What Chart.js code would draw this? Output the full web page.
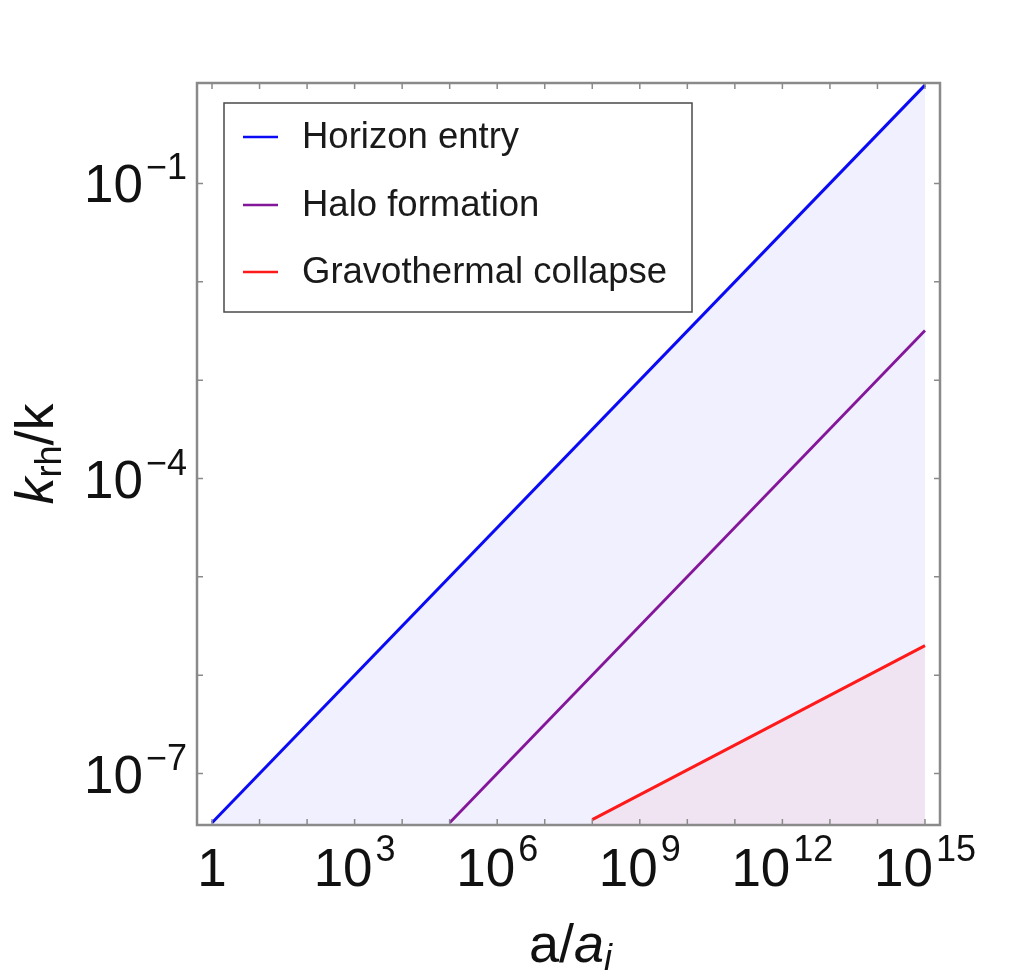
<!DOCTYPE html>
<html>
<head>
<meta charset="utf-8">
<script src="https://cdn.jsdelivr.net/npm/chart.js@4.4.0/dist/chart.umd.min.js"></script>
<style>
html,body{margin:0;padding:0;background:#fff;}
#wrap{width:1024px;height:978px;position:relative;}
</style>
</head>
<body>
<div id="wrap"><canvas id="c"></canvas></div>
<script>
// ---- data ----
const seriesLabels = ['Horizon entry', 'Halo formation', 'Gravothermal collapse'];
const seriesColors = ['#0a0af5', '#84169a', '#ff1a1a'];
const horizonX = [1, 1e15];
const horizonY = [3.16e-8, 1.0];
const haloX = [1e5, 1e15];
const haloY = [3.16e-8, 3.2e-3];
const gravoX = [1e8, 1e15];
const gravoY = [3.4e-8, 2.0e-6];
const xTickExps = [0,1,2,3,4,5,6,7,8,9,10,11,12,13,14,15];
const xLabelExps = [0,3,6,9,12,15];
const yTickExps = [-7,-6,-5,-4,-3,-2,-1];
const yLabelExps = [-7,-4,-1];
const xRange = [0.483, 2.07e15];
const yRange = [3.27e-8, 1.05];

const FONT = '"Liberation Sans", Arial, sans-serif';
const BASE = 53, SUP = 36;

function pts(xs, ys){ return xs.map((x,i)=>({x:x, y:ys[i]})); }

function powParts(e){
  if (e === 0) return {base:'1', sup:''};
  return {base:'10', sup:String(e).replace('-', '\u2212')};
}
function drawPow(ctx, e, px, py, mode){
  const p = powParts(e);
  ctx.font = BASE + 'px ' + FONT;
  const wb = ctx.measureText(p.base).width;
  ctx.font = SUP + 'px ' + FONT;
  const gap = p.sup ? 3 : 0;
  const ws = p.sup ? ctx.measureText(p.sup).width : 0;
  const total = wb + gap + ws;
  let left, bBase, bSup;
  if (mode === 'x'){ left = px - total/2; bBase = py + 61; bSup = py + 36; }
  else { left = px - total; bBase = py + 19; bSup = py - 4; }
  ctx.fillStyle = '#111';
  ctx.textAlign = 'left'; ctx.textBaseline = 'alphabetic';
  ctx.font = BASE + 'px ' + FONT;
  ctx.fillText(p.base, left, bBase);
  if (p.sup){
    ctx.font = SUP + 'px ' + FONT;
    ctx.fillText(p.sup, left + wb + gap, bSup);
  }
}
function drawRich(ctx, segs, cx, baseline){
  let total = 0;
  segs.forEach(s=>{ ctx.font = (s.it?'italic ':'') + s.size + 'px ' + FONT; s.w = ctx.measureText(s.t).width; total += s.w; });
  let x = cx - total/2;
  ctx.textAlign = 'left'; ctx.textBaseline = 'alphabetic'; ctx.fillStyle = '#111';
  segs.forEach(s=>{ ctx.font = (s.it?'italic ':'') + s.size + 'px ' + FONT; ctx.fillText(s.t, x, baseline + (s.dy||0)); x += s.w; });
}

const decor = {
  id: 'decor',
  afterDraw(chart){
    const ctx = chart.ctx, a = chart.chartArea, xs = chart.scales.x, ys = chart.scales.y;
    ctx.save();
    // tick marks, inward, on all four sides
    ctx.strokeStyle = '#8a8a8a'; ctx.lineWidth = 1.5;
    const tl = 6;
    ctx.beginPath();
    xTickExps.forEach(e=>{
      const px = xs.getPixelForValue(Math.pow(10,e));
      ctx.moveTo(px, a.bottom); ctx.lineTo(px, a.bottom - tl);
      ctx.moveTo(px, a.top); ctx.lineTo(px, a.top + tl);
    });
    yTickExps.forEach(e=>{
      const py = ys.getPixelForValue(Math.pow(10,e));
      ctx.moveTo(a.left, py); ctx.lineTo(a.left + tl, py);
      ctx.moveTo(a.right, py); ctx.lineTo(a.right - tl, py);
    });
    ctx.stroke();
    // frame
    ctx.lineWidth = 2.5; ctx.strokeStyle = '#8a8a8a';
    ctx.strokeRect(a.left, a.top, a.right - a.left, a.bottom - a.top);
    // tick labels
    xLabelExps.forEach(e=>{ drawPow(ctx, e, xs.getPixelForValue(Math.pow(10,e)), a.bottom, 'x'); });
    yLabelExps.forEach(e=>{ drawPow(ctx, e, a.left - 10, ys.getPixelForValue(Math.pow(10,e)), 'y'); });
    // axis titles
    const cx = (a.left + a.right)/2 + 2;
    drawRich(ctx, [
      {t:'a/', size:54}, {t:'a', size:54, it:true}, {t:'i', size:36, it:true, dy:8}
    ], cx, a.bottom + 137);
    ctx.save();
    ctx.translate(a.left - 144, (a.top + a.bottom)/2);
    ctx.rotate(-Math.PI/2);
    drawRich(ctx, [
      {t:'k', size:54, it:true}, {t:'rh', size:36, dy:8}, {t:'/k', size:54}
    ], 0, 0);
    ctx.restore();
    // legend
    const lx = a.left + 27, ly = a.top + 20, lw = 468, lh = 209;
    ctx.fillStyle = '#fff';
    ctx.fillRect(lx, ly, lw, lh);
    ctx.strokeStyle = '#4a4a4a'; ctx.lineWidth = 1.5;
    ctx.strokeRect(lx, ly, lw, lh);
    const rows = [ly + 34, ly + 102, ly + 169];
    chart.data.datasets.forEach((ds, i)=>{
      const ry = rows[i];
      ctx.strokeStyle = ds.borderColor; ctx.lineWidth = 2.5;
      ctx.beginPath(); ctx.moveTo(lx + 19, ry); ctx.lineTo(lx + 54, ry); ctx.stroke();
      ctx.fillStyle = '#1a1a1a';
      ctx.font = '36.5px ' + FONT; ctx.textAlign = 'left'; ctx.textBaseline = 'middle';
      ctx.fillText(ds.label, lx + 78, ry + 1);
    });
    ctx.restore();
  }
};

new Chart(document.getElementById('c'), {
  type: 'scatter',
  data: {
    datasets: [
      {label: seriesLabels[0], data: pts(horizonX, horizonY), showLine: true, borderColor: seriesColors[0], borderWidth: 3,
       fill: 'start', backgroundColor: 'rgba(0,0,255,0.06)', pointRadius: 0},
      {label: seriesLabels[1], data: pts(haloX, haloY), showLine: true, borderColor: seriesColors[1], borderWidth: 2.8,
       fill: false, pointRadius: 0},
      {label: seriesLabels[2], data: pts(gravoX, gravoY), showLine: true, borderColor: seriesColors[2], borderWidth: 3,
       fill: 'start', backgroundColor: 'rgba(255,0,0,0.05)', pointRadius: 0}
    ]
  },
  options: {
    responsive: true, maintainAspectRatio: false, animation: false,
    layout: {padding: {left: 197, right: 84, top: 83, bottom: 153}},
    scales: {
      x: {type: 'logarithmic', min: xRange[0], max: xRange[1], display: false},
      y: {type: 'logarithmic', min: yRange[0], max: yRange[1], display: false}
    },
    plugins: {legend: {display: false}, tooltip: {enabled: false}, filler: {drawTime: 'beforeDatasetsDraw'}},
    elements: {line: {tension: 0}}
  },
  plugins: [decor]
});
</script>
</body>
</html>
